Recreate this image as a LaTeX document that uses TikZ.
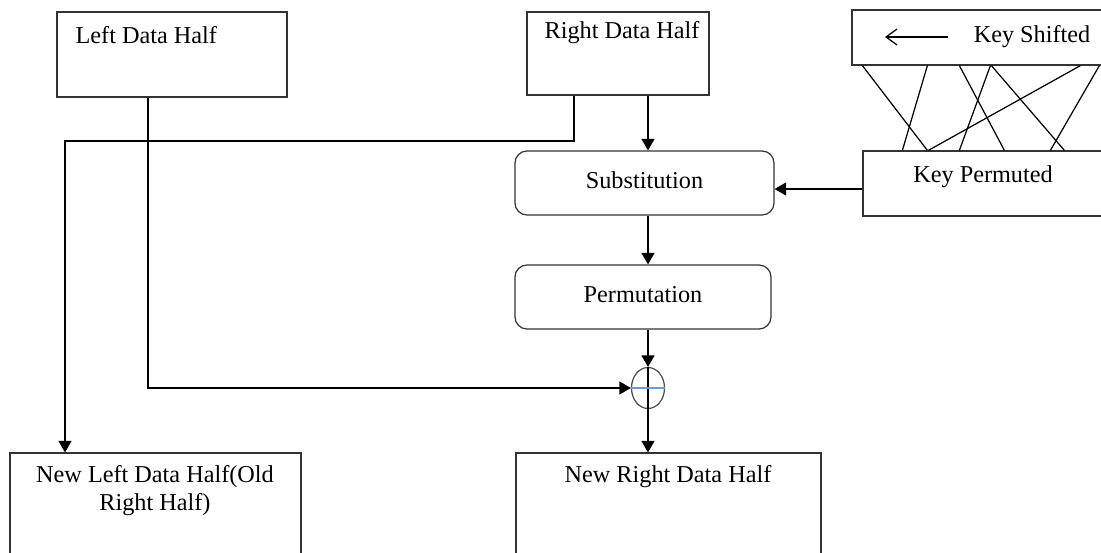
\documentclass[tikz,border=0pt]{standalone}
\usepackage{fontspec}
\setmainfont{Liberation Serif}
\usetikzlibrary{arrows.meta,shapes.geometric}
\begin{document}
\begin{tikzpicture}[->,>={Triangle[length=0.23cm,width=0.26cm]},line width=0.7pt,
  font=\fontsize{13.8}{16.4}\selectfont,
  box/.style={draw=black!80,inner sep=0pt},
  rbox/.style={box,rounded corners=0.24cm,text depth=0.12cm},
  txt/.style={inner sep=0pt,anchor=west}]
  \clip (0,0) rectangle (22.02,-11.06);
  % data halves
  \node[box,minimum width=4.6cm,minimum height=1.7cm] (ldh) at (3.44,-1.09) {};
  \node[txt] (ldht) at (1.5,-0.7) {Left Data Half};
  \node[box,minimum width=3.64cm,minimum height=1.66cm] (rdh) at (12.36,-1.07) {};
  \node[txt] (rdht) at (10.88,-0.66) {Right Data Half};
  % key
  \node[box,minimum width=5.26cm,minimum height=1.1cm] (ks) at (19.67,-0.75) {};
  \node[inner sep=0pt] (kst) at (20.64,-0.74) {Key Shifted};
  \coordinate (ksa) at (18.96,-0.74);
  \coordinate (ksb) at (17.7,-0.74);
  \node[box,minimum width=5.04cm,minimum height=1.3cm] (kp) at (19.78,-3.67) {};
  \node[inner sep=0pt] (kpt) at (19.66,-3.54) {Key Permuted};
  % round
  \node[rbox,minimum width=5.18cm,minimum height=1.28cm] (sub) at (12.89,-3.66) {Substitution};
  \node[rbox,minimum width=5.12cm,minimum height=1.28cm] (perm) at (12.86,-5.94) {Permutation};
  \node[draw=black!70,ellipse,inner sep=0pt,minimum width=0.66cm,minimum height=0.82cm] (xor) at (12.96,-7.76) {};
  % new halves
  \node[box,minimum width=5.82cm,minimum height=2.44cm] (nlh) at (3.11,-10.28) {};
  \node[inner sep=0pt,align=center] (nlht) at (3.1,-9.81) {New Left Data Half(Old\\Right Half)};
  \node[box,minimum width=6.1cm,minimum height=2.44cm] (nrh) at (13.37,-10.28) {};
  \node[inner sep=0pt] (nrht) at (13.36,-9.54) {New Right Data Half};

  \draw[-{Straight Barb[length=0.22cm,width=0.32cm]}] (ksa) to (ksb);
  \foreach \a/\b in {0.22/1.30,1.52/0.80,2.16/2.84,2.78/1.94,2.80/4.04,4.58/1.32,4.96/3.76}
    \draw[-] ([xshift=\a cm]ks.south west) -- ([xshift=\b cm]kp.north west);
  \draw[-,draw=black] (xor.north) -- (xor.south);
  \draw[-,draw={rgb,255:red,110;green,155;blue,210}] (xor.west) -- (xor.east);

  \coordinate (turn) at (1.3,-2.82);
  \draw ([xshift=-0.88cm]rdh.south) |- (turn) -- (turn |- nlh.north);
  \draw (xor |- rdh.south) to (xor |- sub.north);
  \draw ([yshift=-0.11cm]kp.west) to ([yshift=-0.11cm]kp.west -| sub.east);
  \draw (xor |- sub.south) to (xor |- perm.north);
  \draw (xor |- perm.south) to (xor.north);
  \draw ([xshift=-0.48cm]ldh.south) |- (xor.west);
  \draw (xor.south) to (xor |- nrh.north);
\end{tikzpicture}
\end{document}
